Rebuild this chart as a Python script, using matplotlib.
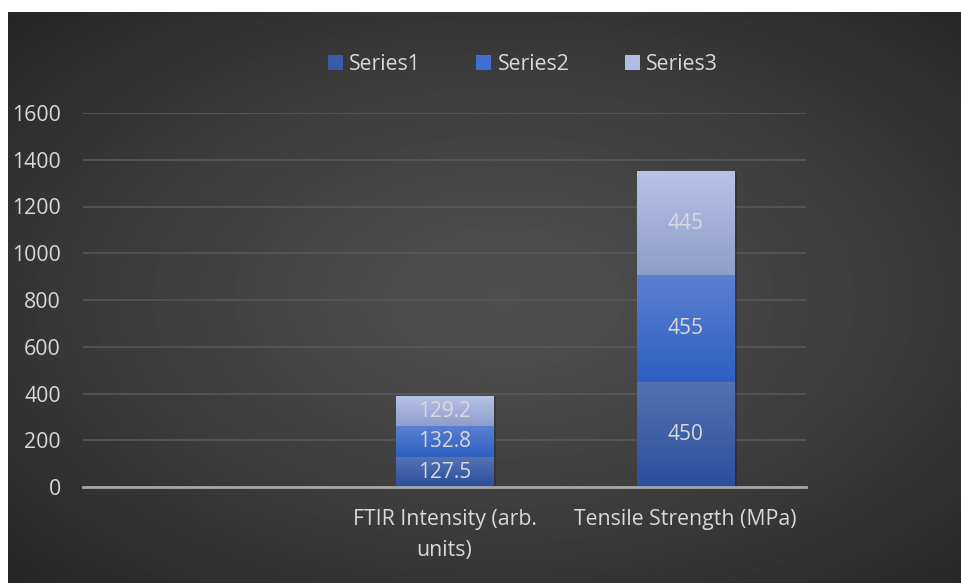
import numpy as np
import matplotlib
matplotlib.use("Agg")
import matplotlib.pyplot as plt
from matplotlib.colors import LinearSegmentedColormap
from matplotlib.patches import Patch

categories = ["", "FTIR Intensity (arb.\nunits)", "Tensile Strength (MPa)"]
series_names = ["Series1", "Series2", "Series3"]
series1 = [np.nan, 127.5, 450]
series2 = [np.nan, 132.8, 455]
series3 = [np.nan, 129.2, 445]
label1 = ["", "127.5", "450"]
label2 = ["", "132.8", "455"]
label3 = ["", "129.2", "445"]
yticks = [0, 200, 400, 600, 800, 1000, 1200, 1400, 1600]

plt.rcParams['font.family'] = ['Open Sans', 'DejaVu Sans']
W, H = 962, 583
fig = plt.figure(figsize=(W / 100, H / 100), dpi=100)
fig.patch.set_facecolor("white")

# background panel with radial gradient
bg = fig.add_axes([8 / W, 0, 1 - 8 / W, 1 - 12 / H])
bg.set_axis_off()
yy, xx = np.mgrid[0:1:300j, 0:1:500j]
r = np.sqrt(((xx - 0.52) / 0.75) ** 2 + ((yy - 0.5) / 0.75) ** 2)
r = np.clip(r / 0.95, 0, 1)
bgcol = 0.31 - 0.16 * r ** 1.3
bg.imshow(bgcol, cmap="gray", vmin=0, vmax=1, aspect="auto", extent=[0, 1, 0, 1], interpolation="bilinear")
bg.set_xlim(0, 1)
bg.set_ylim(0, 1)

ax = fig.add_axes([83 / W, 1 - 487 / H, (806 - 83) / W, (487 - 113) / H])
ax.patch.set_alpha(0)
x = np.arange(len(categories))
width = 0.405

grads = [("#5472b2", "#2a4f9d"), ("#5b80d2", "#2e60c0"), ("#b7c4e8", "#8e9dca")]
vals = [series1, series2, series3]
labs = [label1, label2, label3]
bottom = np.zeros(len(categories))
for i, (v, lab, (ctop, cbot)) in enumerate(zip(vals, labs, grads)):
    v = np.array(v, dtype=float)
    bars = ax.bar(x, np.nan_to_num(v), width, bottom=bottom, color=cbot, label=series_names[i], zorder=3)
    cmap = LinearSegmentedColormap.from_list("g%d" % i, [cbot, ctop])
    for j, (b, val) in enumerate(zip(bars, v)):
        if np.isnan(val):
            continue
        x0, y0, w, h = b.get_x(), b.get_y(), b.get_width(), b.get_height()
        # soft shadow
        ax.bar(x0 + w / 2 + 0.012, h, w, bottom=y0 - 6, color="black", alpha=0.18, zorder=2, linewidth=0)
        g = np.linspace(0, 1, 64).reshape(-1, 1)
        im = ax.imshow(g, cmap=cmap, aspect="auto", extent=[x0, x0 + w, y0, y0 + h], origin="lower", zorder=3.5)
        im.set_clip_path(b)
        ax.text(x0 + w / 2, y0 + h / 2, lab[j], ha="center", va="center",
                color="#d9d9d9", fontsize=15, zorder=6)
    bottom = bottom + np.nan_to_num(v)

ax.set_xlim(-0.5, 2.5)
ax.set_ylim(0, 1600)
ax.set_yticks(yticks)
ax.set_yticklabels([str(t) for t in yticks])
ax.set_xticks(x)
ax.set_xticklabels(categories, linespacing=1.6)
ax.tick_params(axis="both", length=0, colors="#d9d9d9", labelsize=15.3)
ax.tick_params(axis="y", pad=16)
ax.tick_params(axis="x", pad=16)
ax.grid(axis="y", color="#575757", linewidth=1.2, zorder=0)
for s in ["top", "right", "left"]:
    ax.spines[s].set_visible(False)
ax.spines["bottom"].set_color("#a6a6a6")
ax.spines["bottom"].set_linewidth(2)
ax.spines["bottom"].set_zorder(4)

lh = [Patch(facecolor="#3a5ca8"), Patch(facecolor="#3f6fd0"), Patch(facecolor="#afbde4")]
fig.legend(lh, series_names, loc="center", bbox_to_anchor=(523 / W, 1 - 64 / H), ncol=3,
           frameon=False, fontsize=15.3, labelcolor="#d9d9d9", handlelength=0.7, handleheight=0.7,
           handletextpad=0.3, columnspacing=2.6)

fig.savefig("out.png", dpi=100)
